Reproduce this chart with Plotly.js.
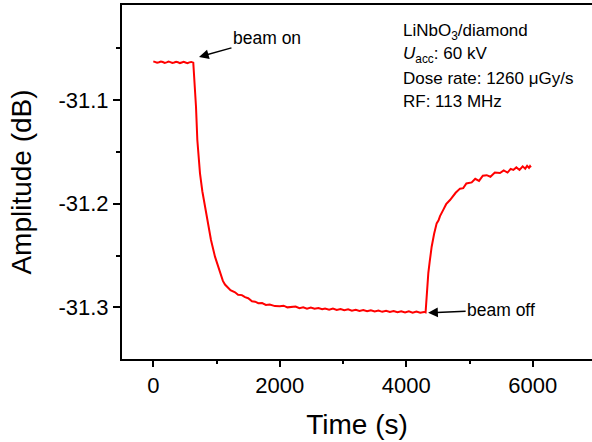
<!DOCTYPE html>
<html>
<head>
<meta charset="utf-8">
<script src="https://cdn.plot.ly/plotly-3.0.1.min.js"></script>
<style>html,body{margin:0;padding:0;background:#fff;}#chart{width:592px;height:442px;}</style>
</head>
<body>
<div id="chart"></div>
<script>
// Time (s)
const timeS = [
  0, 30, 60, 90, 120, 150, 180, 210, 240, 270, 300, 330, 360, 390, 420, 450, 480, 510, 540, 570, 600, 632,
  645, 660, 675, 696, 715, 738, 775, 817, 860, 912, 975, 1020, 1055, 1100, 1133, 1170, 1220, 1292, 1340,
  1400, 1450, 1500, 1560, 1610, 1660, 1720, 1780, 1840, 1924, 2000, 2060, 2120, 2188, 2250, 2310, 2370,
  2430, 2490, 2550, 2610, 2670, 2715, 2780, 2840, 2900, 2960, 3020, 3080, 3140, 3200, 3260, 3320, 3380,
  3440, 3500, 3560, 3620, 3680, 3740, 3800, 3860, 3920, 3980, 4040, 4100, 4160, 4220, 4280, 4305,
  4311, 4320, 4335, 4348, 4370, 4401, 4440, 4480, 4510, 4533, 4580, 4630, 4691, 4730, 4780, 4849, 4900,
  4950, 5034, 5090, 5150, 5210, 5271, 5330, 5400, 5481, 5540, 5600, 5650, 5692, 5740, 5790, 5840, 5880,
  5910, 5940, 5956, 5970
];
// Amplitude (dB)
const amplitudeDB = [
  -31.0628, -31.0633, -31.0640, -31.0636, -31.0629, -31.0634, -31.0642, -31.0637, -31.0630, -31.0635,
  -31.0643, -31.0638, -31.0631, -31.0636, -31.0644, -31.0638, -31.0632, -31.0639, -31.0645, -31.0637,
  -31.0633, -31.0640,
  -31.0750, -31.0950, -31.1065, -31.1386, -31.1570, -31.1707, -31.1880, -31.2029, -31.2200, -31.2350,
  -31.2511, -31.2600, -31.2670, -31.2745, -31.2780, -31.2800, -31.2835, -31.2855, -31.2878, -31.2882,
  -31.2902, -31.2912, -31.2942, -31.2945, -31.2960, -31.2958, -31.2976, -31.2972, -31.2988, -31.2990,
  -31.2984, -31.3000, -31.2996, -31.2992, -31.3008, -31.3000, -31.3012, -31.3002, -31.3014, -31.3006,
  -31.3018, -31.3011, -31.3022, -31.3012, -31.3025, -31.3016, -31.3028, -31.3019, -31.3032, -31.3023,
  -31.3035, -31.3026, -31.3038, -31.3028, -31.3040, -31.3030, -31.3043, -31.3033, -31.3045, -31.3035,
  -31.3047, -31.3037, -31.3049, -31.3038, -31.3051, -31.3040, -31.3052, -31.3044, -31.3049,
  -31.3000, -31.2850, -31.2720, -31.2670, -31.2560, -31.2415, -31.2290, -31.2190, -31.2160, -31.2120,
  -31.2065, -31.2005, -31.1965, -31.1930, -31.1895, -31.1855, -31.1850, -31.1805, -31.1795, -31.1760,
  -31.1780, -31.1730, -31.1725, -31.1740, -31.1700, -31.1705, -31.1680, -31.1700, -31.1665, -31.1675,
  -31.1650, -31.1675, -31.1640, -31.1662, -31.1635, -31.1655, -31.1638, -31.1650
];
const xTickVals = [0, 2000, 4000, 6000];
const yTickVals = [-31.3, -31.2, -31.1];
const infoLines = [
  'LiNbO<sub>3</sub>/diamond',
  '<i>U</i><sub>acc</sub>: 60 kV',
  'Dose rate: 1260 μGy/s',
  'RF: 113 MHz'
];
const beamOn = {t: 722, a: -31.0585, label: 'beam on'};
const beamOff = {t: 4345, a: -31.3053, label: 'beam off'};

const FONT = 'Arial, "Liberation Sans", sans-serif';
const infoY = [0.9240, 0.8590, 0.7910, 0.7260];

const annotations = infoLines.map((txt, i) => ({
  xref: 'paper', yref: 'paper', x: 0.5930, y: infoY[i],
  xanchor: 'left', yanchor: 'middle', text: txt, showarrow: false,
  font: {family: FONT, size: 17, color: '#000'}
}));
annotations.push({
  x: beamOn.t, y: beamOn.a, xref: 'x', yref: 'y', text: beamOn.label, showarrow: true,
  ax: 68, ay: -19, arrowhead: 2, arrowsize: 1.3, arrowwidth: 1.5, arrowcolor: '#000',
  font: {family: FONT, size: 17.5, color: '#000'}
});
annotations.push({
  x: beamOff.t, y: beamOff.a, xref: 'x', yref: 'y', text: beamOff.label, showarrow: true,
  ax: 73, ay: -3, arrowhead: 2, arrowsize: 1.3, arrowwidth: 1.5, arrowcolor: '#000',
  font: {family: FONT, size: 17.5, color: '#000'}
});

const trace = {
  x: timeS, y: amplitudeDB, type: 'scatter', mode: 'lines',
  line: {color: '#ff0000', width: 2}, hoverinfo: 'skip'
};

const layout = {
  width: 592, height: 442,
  margin: {l: 122, r: 0, t: 5, b: 83},
  paper_bgcolor: '#fff', plot_bgcolor: '#fff',
  showlegend: false,
  font: {family: FONT, color: '#000'},
  xaxis: {
    range: [-495, 6936], showgrid: false, zeroline: false,
    showline: true, linecolor: '#000', linewidth: 2, mirror: true,
    tickmode: 'array', tickvals: xTickVals, ticktext: xTickVals.map(String),
    ticks: 'outside', ticklen: 6, tickwidth: 2, tickcolor: '#000',
    tickfont: {family: FONT, size: 22, color: '#000'},
    minor: {tickvals: [1000, 3000, 5000], ticks: 'outside', ticklen: 3, tickwidth: 2, tickcolor: '#000', showgrid: false},
    title: {text: 'Time (s)', font: {family: FONT, size: 28, color: '#000'}, standoff: 17},
    automargin: false
  },
  yaxis: {
    range: [-31.3498, -31.0084], showgrid: false, zeroline: false,
    showline: true, linecolor: '#000', linewidth: 2, mirror: false,
    tickmode: 'array', tickvals: yTickVals, ticktext: yTickVals.map(v => v.toFixed(1)),
    ticks: 'outside', ticklen: 7, tickwidth: 2, tickcolor: '#000',
    tickfont: {family: FONT, size: 22, color: '#000'},
    minor: {tickvals: [-31.35, -31.25, -31.15, -31.05], ticks: 'outside', ticklen: 4, tickwidth: 2, tickcolor: '#000', showgrid: false},
    title: {text: 'Amplitude (dB)', font: {family: FONT, size: 28, color: '#000'}, standoff: 19},
    automargin: false
  },
  annotations: annotations
};

Plotly.newPlot('chart', [trace], layout, {staticPlot: true, displayModeBar: false});
</script>
</body>
</html>
